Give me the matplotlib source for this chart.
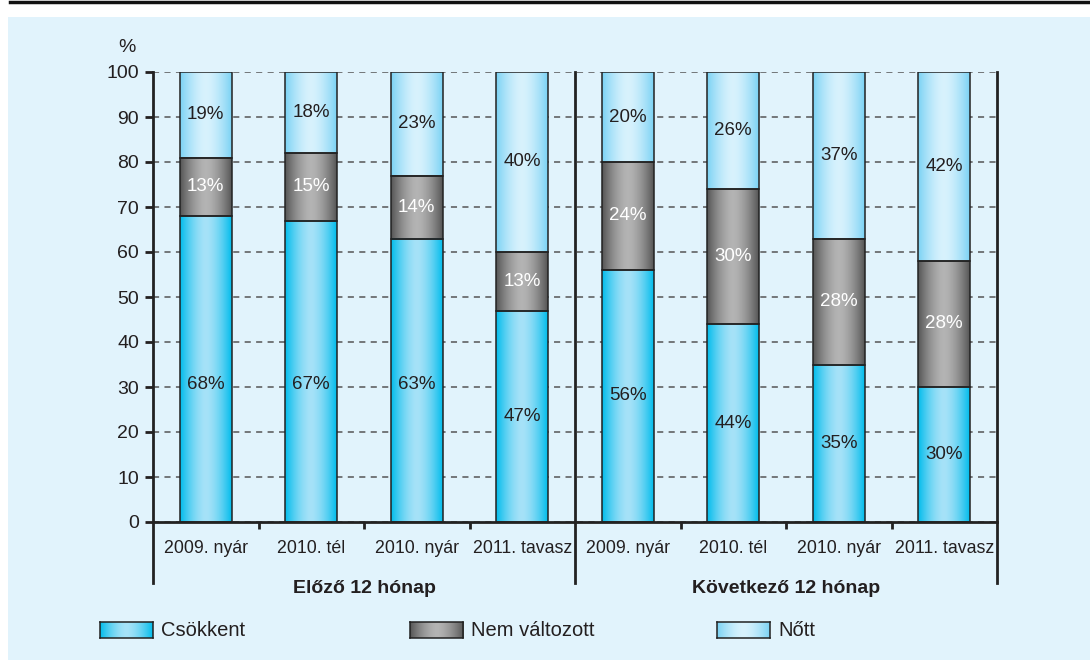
import numpy as np
import matplotlib as mpl
mpl.use("Agg")
import matplotlib.pyplot as plt
from matplotlib.patches import Rectangle
from matplotlib.transforms import blended_transform_factory

plt.rcParams["font.family"] = ["Liberation Sans", "DejaVu Sans"]

categories = ["2009. nyár", "2010. tél", "2010. nyár", "2011. tavasz",
              "2009. nyár", "2010. tél", "2010. nyár", "2011. tavasz"]
groups = ["Előző 12 hónap", "Következő 12 hónap"]
series = ["Csökkent", "Nem változott", "Nőtt"]
csokkent = [68, 67, 63, 47, 56, 44, 35, 30]
nem_valt = [13, 15, 14, 13, 24, 30, 28, 28]
nott = [19, 18, 23, 40, 20, 26, 37, 42]

BG = "#e1f3fc"
TXT = "#231f20"
# (edge colour, centre colour) for the cylinder-like shading
SHADES = [("#00bcec", "#a6e2f8"), ("#555555", "#b4b4b4"), ("#7ad2f4", "#d8f2fd")]
LABEL_COL = [TXT, "white", TXT]


def gradient(edge, centre, n=200):
    t = np.linspace(-1, 1, n)
    w = 1 - np.abs(t) ** 1.6
    e = np.array(mpl.colors.to_rgb(edge)); c = np.array(mpl.colors.to_rgb(centre))
    return (e[None, :] + (c - e)[None, :] * w[:, None])[None, :, :]


fig = plt.figure(figsize=(10.9, 6.6), dpi=100, facecolor="white")
fig.patches.append(Rectangle((8 / 1090, 0), 1, 1 - 17 / 660, transform=fig.transFigure,
                             facecolor=BG, edgecolor="none", zorder=-10))
fig.add_artist(plt.Line2D([10 / 1090, 1], [1 - 2 / 660] * 2, transform=fig.transFigure,
                          color="#111111", lw=2.5))

ax = fig.add_axes([153 / 1090, 1 - 522 / 660, (997 - 153) / 1090, 450 / 660])
ax.set_facecolor("none")
x = np.arange(len(categories))
W = 0.49
vals = [csokkent, nem_valt, nott]
bottom = np.zeros(len(x))
for k, v in enumerate(vals):
    v = np.array(v, float)
    ax.bar(x, v, W, bottom=bottom, facecolor="none", edgecolor="#222222", lw=1.1, zorder=3)
    img = gradient(*SHADES[k])
    for i in range(len(x)):
        ax.imshow(img, extent=(x[i] - W / 2, x[i] + W / 2, bottom[i], bottom[i] + v[i]),
                  aspect="auto", zorder=2, interpolation="bilinear")
        yl = bottom[i] + v[i] / 2
        if k == 0:
            yl = min(yl, 30.5)
        ax.text(x[i], yl, f"{int(v[i])}%", ha="center", va="center", fontsize=13.5,
                color=LABEL_COL[k], zorder=4)
    bottom += v

ax.set_xlim(-0.5, len(x) - 0.5)
ax.set_ylim(0, 100)
ax.set_yticks(np.arange(0, 101, 10))
ax.tick_params(axis="y", length=6, width=2, direction="out", labelsize=14, colors=TXT, pad=4)
ax.set_xticks(x)
ax.set_xticklabels(categories, fontsize=12.8, color=TXT)
ax.tick_params(axis="x", which="major", length=0, pad=13)
ax.set_xticks([0.5, 1.5, 2.5, 4.5, 5.5, 6.5], minor=True)
ax.tick_params(axis="x", which="minor", length=5, width=2, direction="out", colors="#222222")
ax.yaxis.grid(True, ls=(0, (4, 3.5)), color="#555555", lw=1.1)
ax.set_axisbelow(True)
for s in ["left", "right", "top"]:
    ax.spines[s].set_visible(False)
ax.spines["bottom"].set_linewidth(2)
ax.spines["bottom"].set_color("#222222")

tr = blended_transform_factory(ax.transData, ax.transAxes)
for xs in [-0.5, 3.5, 7.5]:
    ax.plot([xs, xs], [-0.1356, 1.0], color="#222222", lw=2, transform=tr, clip_on=False, zorder=5)
ax.text(1.5, -0.147, groups[0], transform=tr, ha="center", va="center", fontsize=14,
        fontweight="bold", color=TXT)
ax.text(5.5, -0.147, groups[1], transform=tr, ha="center", va="center", fontsize=14,
        fontweight="bold", color=TXT)
ax.text(-0.02, 1.055, "%", transform=ax.transAxes, ha="right", va="center", fontsize=14, color=TXT)

# legend
for k, (name, x0) in enumerate(zip(series, [100, 410, 717])):
    la = fig.add_axes([x0 / 1090, 1 - 638 / 660, 53 / 1090, 16 / 660])
    la.imshow(gradient(*SHADES[k]), aspect="auto", interpolation="bilinear")
    la.set_xticks([]); la.set_yticks([])
    for s in la.spines.values():
        s.set_color("#222222"); s.set_linewidth(1.1)
    fig.text((x0 + 61) / 1090, 1 - 630 / 660, name, ha="left", va="center", fontsize=14.5, color=TXT)

fig.savefig("out.png", dpi=100, facecolor="white")
